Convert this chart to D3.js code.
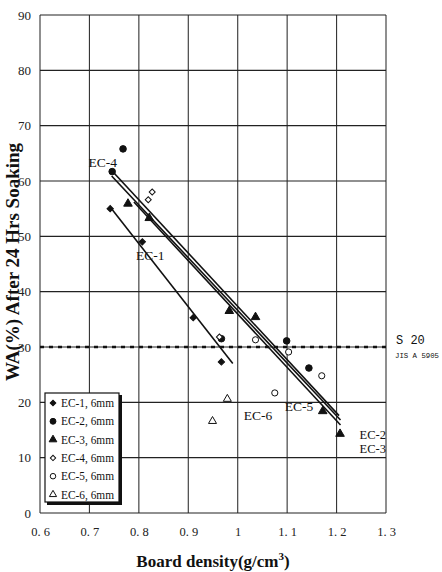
<!DOCTYPE html>
<html><head><meta charset="utf-8">
<script src="https://cdn.jsdelivr.net/npm/d3@7"></script>
<style>body{margin:0;background:#fff}</style>
</head><body>
<svg id="c" width="442" height="572" xmlns="http://www.w3.org/2000/svg"></svg>
<script>
// ---- data ----
const xTicks = [0.6, 0.7, 0.8, 0.9, 1.0, 1.1, 1.2, 1.3];
const xTickLabels = ["0. 6", "0. 7", "0. 8", "0. 9", "1", "1. 1", "1. 2", "1. 3"];
const yTicks = [0, 10, 20, 30, 40, 50, 60, 70, 80, 90];
const seriesNames = ["EC-1, 6mm", "EC-2, 6mm", "EC-3, 6mm", "EC-4, 6mm", "EC-5, 6mm", "EC-6, 6mm"];
const ec1 = [[0.742, 55.0], [0.807, 49.0], [0.910, 35.3], [0.967, 27.3]];
const ec2 = [[0.768, 65.8], [0.746, 61.7], [0.967, 31.5], [1.099, 31.1], [1.144, 26.2]];
const ec3 = [[0.778, 55.9], [0.821, 53.3], [0.983, 36.5], [1.036, 35.4], [1.172, 18.4], [1.207, 14.3]];
const ec4 = [[0.819, 56.6], [0.827, 58.0], [0.963, 31.8]];
const ec5 = [[1.036, 31.3], [1.103, 29.1], [1.170, 24.8], [1.075, 21.7]];
const ec6 = [[0.949, 16.6], [0.979, 20.6]];
// regression lines (density, WA) start and end
const fitEC1 = [[0.742, 55.3], [0.990, 27.0]];
const fitEC4 = [[0.745, 61.9], [1.205, 17.6]];
const fitEC2 = [[0.745, 60.9], [1.208, 16.8]];
const fitEC3 = [[0.790, 56.2], [1.208, 15.9]];
const standardValue = 30;
const lineLabels = [
  {t: "EC-4", d: 0.698, v: 62.5, a: "start"},
  {t: "EC-1", d: 0.794, v: 45.8, a: "start"},
  {t: "EC-6", d: 1.012, v: 16.8, a: "start"},
  {t: "EC-5", d: 1.095, v: 18.5, a: "start"},
  {t: "EC-2", d: 1.300, v: 13.3, a: "end"},
  {t: "EC-3", d: 1.300, v: 10.9, a: "end"}
];

// ---- layout ----
const svg = d3.select("#c");
const L = 40, R = 386, T = 15, B = 513;
const x = d3.scaleLinear().domain([0.6, 1.3]).range([L, R]);
const y = d3.scaleLinear().domain([0, 90]).range([B, T]);
const ink = "#111";

svg.append("rect").attr("width", 442).attr("height", 572).attr("fill", "#fff");

// grid
const g = svg.append("g");
g.selectAll(".vg").data(xTicks).enter().append("line")
  .attr("x1", d => x(d)).attr("x2", d => x(d)).attr("y1", T).attr("y2", B)
  .attr("stroke", "#333").attr("stroke-width", 1.1);
g.selectAll(".hg").data(yTicks).enter().append("line")
  .attr("x1", L).attr("x2", R).attr("y1", d => y(d)).attr("y2", d => y(d))
  .attr("stroke", "#222").attr("stroke-width", 1.1);

// axes (labels only, using d3 axes)
const xAxis = d3.axisBottom(x).tickValues(xTicks).tickSize(0).tickPadding(14)
  .tickFormat((d, i) => xTickLabels[i]);
const gx = svg.append("g").attr("transform", `translate(0,${B})`).call(xAxis);
gx.select(".domain").remove();
gx.selectAll("text").attr("font-family", "Liberation Serif").attr("font-size", 12.5).attr("fill", "#222");

const yAxis = d3.axisLeft(y).tickValues(yTicks).tickSize(0).tickPadding(9);
const gy = svg.append("g").attr("transform", `translate(${L},0)`).call(yAxis);
gy.select(".domain").remove();
gy.selectAll("text").attr("font-family", "Liberation Serif").attr("font-size", 13).attr("fill", "#222");

// standard dashed line
svg.append("line").attr("x1", L).attr("x2", R)
  .attr("y1", y(standardValue)).attr("y2", y(standardValue))
  .attr("stroke", ink).attr("stroke-width", 2.6).attr("stroke-dasharray", "4,5");
svg.append("text").attr("x", R + 10).attr("y", y(standardValue) - 3)
  .attr("font-family", "Liberation Mono").attr("font-size", 12).attr("fill", ink).text("S 20");
svg.append("text").attr("x", R + 9).attr("y", y(standardValue) + 11)
  .attr("font-family", "Liberation Mono").attr("font-size", 7).attr("fill", ink)
  .attr("textLength", 44).attr("lengthAdjust", "spacingAndGlyphs").text("JIS A 5905");

// fit lines
[fitEC1, fitEC4, fitEC2, fitEC3].forEach(f => {
  svg.append("line")
    .attr("x1", x(f[0][0])).attr("y1", y(f[0][1]))
    .attr("x2", x(f[1][0])).attr("y2", y(f[1][1]))
    .attr("stroke", ink).attr("stroke-width", 1.6);
});

// points
const styles = [
  {type: d3.symbolSquare, size: 20, fill: ink, rot: 45},
  {type: d3.symbolCircle, size: 34, fill: ink, rot: 0},
  {type: d3.symbolTriangle, size: 32, fill: ink, rot: 0},
  {type: d3.symbolSquare, size: 18, fill: "#fff", rot: 45},
  {type: d3.symbolCircle, size: 30, fill: "#fff", rot: 0},
  {type: d3.symbolTriangle, size: 28, fill: "#fff", rot: 0}
];
const allSeries = [ec1, ec2, ec3, ec4, ec5, ec6];
allSeries.forEach((s, i) => {
  const st = styles[i];
  svg.append("g").selectAll("path").data(s).enter().append("path")
    .attr("transform", d => `translate(${x(d[0])},${y(d[1])}) rotate(${st.rot})`)
    .attr("d", d3.symbol().type(st.type).size(st.size)())
    .attr("fill", st.fill).attr("stroke", ink).attr("stroke-width", 1);
});

// line labels
svg.append("g").selectAll("text").data(lineLabels).enter().append("text")
  .attr("x", d => x(d.d)).attr("y", d => y(d.v))
  .attr("text-anchor", d => d.a)
  .attr("font-family", "Liberation Serif").attr("font-size", d => d.a === "end" ? 12.5 : 13.5).attr("fill", ink)
  .text(d => d.t);

// legend
const lg = svg.append("g");
lg.append("rect").attr("x", 47).attr("y", 395).attr("width", 75).attr("height", 110).attr("fill", ink);
lg.append("rect").attr("x", 45).attr("y", 393).attr("width", 74).attr("height", 109)
  .attr("fill", "#fff").attr("stroke", ink).attr("stroke-width", 1.2);
seriesNames.forEach((n, i) => {
  const yy = 403 + i * 18.3;
  const st = styles[i];
  lg.append("path").attr("transform", `translate(53,${yy}) rotate(${st.rot})`)
    .attr("d", d3.symbol().type(st.type).size(st.size * 0.8)())
    .attr("fill", st.fill).attr("stroke", ink).attr("stroke-width", 1);
  lg.append("text").attr("x", 61).attr("y", yy + 4)
    .attr("font-family", "Liberation Serif").attr("font-size", 11.5).attr("fill", ink)
    .attr("textLength", 53).attr("lengthAdjust", "spacingAndGlyphs").text(n);
});

// axis titles
const xt = svg.append("text").attr("x", 213).attr("y", 567).attr("text-anchor", "middle")
  .attr("font-family", "Liberation Serif").attr("font-weight", "bold").attr("font-size", 17).attr("fill", ink);
xt.append("tspan").text("Board density(g/cm");
xt.append("tspan").attr("font-size", 11).attr("dy", -7).text("3");
xt.append("tspan").attr("dy", 7).text(")");

svg.append("text").attr("transform", "translate(19,262) rotate(-90)").attr("text-anchor", "middle")
  .attr("font-family", "Liberation Serif").attr("font-weight", "bold").attr("font-size", 19).attr("fill", ink)
  .text("WA(%) After 24 Hrs Soaking");
</script>
</body></html>
